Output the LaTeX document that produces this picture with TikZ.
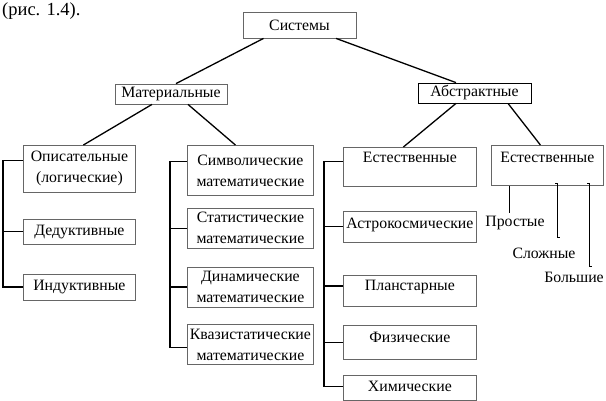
\documentclass[tikz,border=0pt]{standalone}
\usepackage{fontspec}
\setmainfont{Liberation Serif}
\usetikzlibrary{positioning}

\begin{document}
\begin{tikzpicture}[
  x=1pt, y=-1pt,
  box/.style={draw=black!60, line width=0.8pt, font=\fontsize{15.8}{21}\selectfont, inner xsep=1.5pt, inner ysep=2pt, align=center},
  col1/.style={box, minimum width=112pt},
  col2/.style={box, minimum width=126pt, minimum height=40pt},
  col3/.style={box, minimum width=133pt, inner ysep=3pt},
  conn/.style={line width=1.3pt},
  lbl/.style={font=\fontsize{15.8}{17}\selectfont, inner sep=1pt}
]
\useasboundingbox (0,0) rectangle (606,400);

\node[anchor=base west, font=\fontsize{18.5}{20}\selectfont, inner sep=0pt] (fig) at (2,15) {(рис. 1.4).};

\node[box, minimum width=113pt, minimum height=26pt] (sys) at (299.5,25) {Системы};
\node[box, minimum width=112pt, minimum height=20pt] (mat) at (171,94) {Материальные};
\node[box, draw=black, minimum width=113pt, minimum height=20pt] (abs) at (474.5,93) {Абстрактные};

% материальные системы
\node[col1, minimum height=47pt, anchor=north west] (desc) at (23,145) {Описательные\\(логические)};
\node[col1, minimum height=25pt, below=26pt of desc] (ded) {Дедуктивные};
\node[col1, minimum height=26pt, below=29pt of ded] (ind) {Индуктивные};

\node[col2, minimum height=50pt, anchor=north west] (sym) at (187,145) {Символические\\математические};
\node[col2, below=12pt of sym] (stat) {Статистические\\математические};
\node[col2, below=18pt of stat] (dyn) {Динамические\\математические};
\node[col2, below=17pt of dyn] (quasi) {Квазистатические\\математические};

% абстрактные системы
\node[col3, text height=12.5pt, text depth=20.5pt, anchor=north west] (nat) at (343,147) {Естественные};
\node[col3, text height=14.5pt, text depth=10.5pt, below=24pt of nat] (astro) {Астрокосмические};
\node[col3, text height=12.5pt, text depth=12.5pt, below=32pt of astro] (plan) {Планстарные};
\node[col3, text height=13.5pt, text depth=14.5pt, below=19pt of plan] (phys) {Физические};
\node[col3, text height=12.5pt, text depth=6.5pt, below=15pt of phys] (chem) {Химические};

\node[col3, minimum width=112pt, text height=14.5pt, text depth=19.5pt, anchor=north west] (nat2) at (491,145) {Естественные};
\node[lbl] (simple) at (515,223) {Простые};
\node[lbl] (complex) at (544,253) {Сложные};
\node[lbl] (large) at (574,277) {Большие};

% связи
\draw[conn] ([xshift=-36pt]sys.south) -- ([xshift=5pt]mat.north);
\draw[conn] ([xshift=36.5pt]sys.south) -- ([xshift=-18.5pt]abs.north);
\draw[conn] ([xshift=-19pt]mat.south) -- ([xshift=4pt]desc.north);
\draw[conn] ([xshift=17pt]mat.south) -- ([xshift=-15pt]sym.north);
\draw[conn] ([xshift=-18.5pt]abs.south) -- ([xshift=-6.5pt]nat.north);
\draw[conn] ([xshift=33.5pt]abs.south) -- ([xshift=-7pt]nat2.north);

\draw[conn] ([yshift=8.5pt]desc.west) -- ++(-20pt,0) |- (ind.west);
\draw[conn] (ded.west) -- ++(-20pt,0);

\draw[conn] ([yshift=9pt]sym.west) -- ++(-17pt,0) |- ([yshift=-3pt]quasi.west);
\foreach \n in {stat,dyn}
  \draw[conn] (\n.west) -- ++(-17pt,0);

\draw[conn] ([yshift=5.5pt]nat.west) -- ++(-19pt,0) |- ([yshift=1.5pt]chem.west);
\foreach \n/\s in {astro/0pt,plan/4.5pt,phys/0pt}
  \draw[conn] ([yshift=\s]\n.west) -- ++(-19pt,0);

\draw[conn] ([xshift=-38pt]nat2.south) -- ++(0,-27pt);
\draw[conn] ([xshift=8pt,yshift=2pt]nat2.south) -- ++(2pt,0) -- ++(0,-54pt) -- ++(3pt,0);
\draw[conn] ([xshift=40pt,yshift=2pt]nat2.south) -- ++(2pt,0) -- ++(0,-83pt) -- ++(3pt,0);
\end{tikzpicture}
\end{document}
